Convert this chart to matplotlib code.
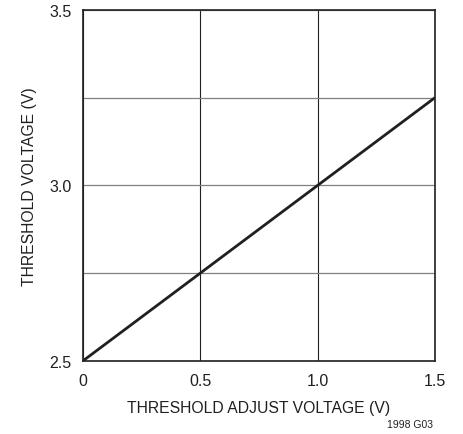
from matplotlib import pyplot
import matplotlib.ticker as ticker

pyplot.rcParams['font.family'] = ['Liberation Sans Narrow', 'Liberation Sans', 'DejaVu Sans']

# threshold adjust voltage (V) vs threshold voltage (V)
adjust_v = [0.0, 0.5, 1.0, 1.5]
threshold_v = [2.5, 2.75, 3.0, 3.25]

x_ticks = [0, 0.5, 1.0, 1.5]
x_tick_labels = ['0', '0.5', '1.0', '1.5']
y_ticks = [2.5, 3.0, 3.5]
y_tick_labels = ['2.5', '3.0', '3.5']

fig = pyplot.figure(figsize=(4.63, 4.35), dpi=100)
ax = fig.add_axes([0.179, 0.168, 0.7605, 0.807])

ax.set_xlim(0, 1.5)
ax.set_ylim(2.5, 3.5)
ax.set_xticks(x_ticks)
ax.set_xticklabels(x_tick_labels)
ax.set_yticks(y_ticks)
ax.set_yticklabels(y_tick_labels)
ax.yaxis.set_minor_locator(ticker.MultipleLocator(0.25))
ax.tick_params(which='both', length=0, labelsize=11.5, colors='#231f20')
ax.tick_params(axis='x', pad=9)
ax.tick_params(axis='y', pad=8)

ax.grid(which='major', axis='x', color='#231f20', linewidth=0.8)
ax.grid(which='both', axis='y', color='#808080', linewidth=0.9)

for s in ax.spines.values():
    s.set_linewidth(1.2)
    s.set_color('#231f20')

ax.plot(adjust_v, threshold_v, color='#231f20', linewidth=2, solid_capstyle='butt')

ax.set_xlabel('THRESHOLD ADJUST VOLTAGE (V)', fontsize=11.3, color='#231f20', labelpad=8)
ax.set_ylabel('THRESHOLD VOLTAGE (V)', fontsize=11.3, color='#231f20', labelpad=9)

fig.text(0.935, 0.012, '1998 G03', fontsize=7.5, ha='right', va='bottom', color='#231f20')

fig.savefig('out.png', dpi=100)
